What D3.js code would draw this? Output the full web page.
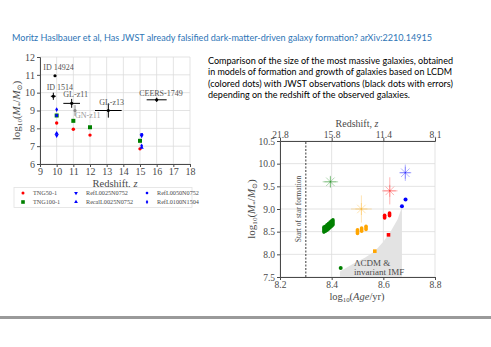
<!DOCTYPE html>
<html>
<head>
<meta charset="utf-8">
<script src="https://cdn.jsdelivr.net/npm/d3@7"></script>
<style>
  body { margin: 0; background: #fff; }
  svg { display: block; }
</style>
</head>
<body>
<svg id="chart" width="491" height="347"></svg>
<script>
// ---------- DATA ----------
const titleText = "Moritz Haslbauer et al, Has JWST already falsified dark-matter-driven galaxy formation?  arXiv:2210.14915";
const paragraphLines = [
  "Comparison of the size of the most massive galaxies, obtained",
  "in models of formation and growth of galaxies based on LCDM",
  "(colored dots) with JWST observations (black dots with errors)",
  "depending on the redshift of the observed galaxies."
];

// left panel: observed galaxies
const obsNames = ["ID 14924", "ID 1514", "GL-z11", "GN-z11", "GL-z13", "CEERS-1749"];
const obsZ     = [9.9, 9.8, 10.9, 11.1, 13.1, 16.0];
const obsMass  = [10.95, 9.8, 9.4, 9.0, 9.0, 9.6];
const obsXerr  = [0, 0.15, 0.5, 0, 0.8, 0.6];
const obsYerr  = [0, 0.2, 0.25, 0.3, 0.4, 0.12];
const obsLabelZ    = [9.2, 9.4, 10.4, 11.1, 12.55, 14.95];
const obsLabelMass = [11.28, 10.16, 9.74, 8.58, 9.3, 9.8];

// left panel: simulations
const simNames = ["TNG50-1", "TNG100-1", "RefL0025N0752", "RecalL0025N0752", "RefL0050N0752", "RefL0100N1504"];
const simZ = [
  [10, 11, 12, 15],
  [10, 11, 12, 15],
  [10, 15.1],
  [10, 15.1],
  [10, 15.1],
  [10, 15.1]
];
const simMass = [
  [8.3, 7.95, 7.62, 6.85],
  [8.72, 8.42, 8.06, 7.3],
  [7.6, 7.58],
  [7.72, 6.92],
  [8.72, 7.66],
  [9.05, 7.02]
];

// right panel: age axis
const ageTicks = [8.2, 8.4, 8.6, 8.8];
const redshiftTickLabels = ["21.8", "15.8", "11.4", "8.1"];
const massTicks = [7.5, 8.0, 8.5, 9.0, 9.5, 10.0, 10.5];

// right panel: observed (transparent asterisks)
const starAge  = [8.395, 8.515, 8.625, 8.685];
const starMass = [9.6, 9.0, 9.4, 9.8];
const starXerr = [0.03, 0.04, 0.03, 0.02];
const starYerr = [0.12, 0.3, 0.3, 0.18];
const starColor = ["green", "orange", "red", "blue"];

// right panel: most massive model galaxies (single points)
const ptAge   = [8.435, 8.567, 8.62, 8.672, 8.686];
const ptMass  = [7.7, 8.07, 8.43, 9.06, 9.21];
const ptColor = ["green", "orange", "red", "blue", "blue"];
const ptShape = ["circle", "square", "square", "circle", "circle"];

// right panel: clustered model galaxies [age, massLow, massHigh]
const clusterAge  = [8.370, 8.376, 8.382, 8.388, 8.394, 8.400, 8.405, 8.500, 8.516, 8.533, 8.605, 8.624];
const clusterLow  = [8.49, 8.51, 8.53, 8.56, 8.59, 8.62, 8.65, 8.46, 8.51, 8.55, 8.80, 8.85];
const clusterHigh = [8.60, 8.62, 8.65, 8.68, 8.71, 8.74, 8.76, 8.54, 8.58, 8.62, 8.86, 8.91];
const clusterColor = ["green", "green", "green", "green", "green", "green", "green", "orange", "orange", "orange", "red", "red"];

// LCDM envelope (upper edge)
const envAge  = [8.432, 8.432, 8.48, 8.53, 8.567, 8.60, 8.63, 8.655, 8.672, 8.672];
const envMass = [7.5, 7.62, 7.78, 7.93, 8.07, 8.28, 8.52, 8.77, 9.04, 7.5];

const startAge = 8.3;

// ---------- DRAWING ----------
const svg = d3.select("#chart");
svg.append("rect").attr("width", 491).attr("height", 347).attr("fill", "#fff");

const serif = "'Liberation Serif', 'DejaVu Serif', serif";
const sans = "Lato, 'Open Sans', sans-serif";
const blue = "#0000ff";
const axisGrey = "#4a4a4a";

// title
svg.append("text")
  .attr("x", 12).attr("y", 41)
  .attr("font-family", sans).attr("font-size", 9.5)
  .attr("fill", "#2e75b6")
  .attr("textLength", 420).attr("lengthAdjust", "spacingAndGlyphs")
  .text(titleText);

// paragraph
const paraWidths = [245, 244, 245, 202];
paragraphLines.forEach((line, i) => {
  svg.append("text")
    .attr("x", 208).attr("y", 64 + i * 11.3)
    .attr("font-family", sans).attr("font-size", 10)
    .attr("fill", "#000")
    .attr("textLength", paraWidths[i]).attr("lengthAdjust", "spacingAndGlyphs")
    .text(line);
});

// bottom rule
svg.append("rect").attr("x", 0).attr("y", 316).attr("width", 491).attr("height", 3).attr("fill", "#9a9a9a");

// log10(M*/Msun) label builder
function massLabel(t) {
  t.append("tspan").text("log");
  t.append("tspan").attr("font-size", "0.65em").attr("dy", 2).text("10");
  t.append("tspan").attr("dy", -2).text("(");
  t.append("tspan").attr("font-style", "italic").text("M");
  t.append("tspan").attr("font-size", "0.65em").attr("dy", 2).text("*");
  t.append("tspan").attr("dy", -2).text("/");
  t.append("tspan").attr("font-style", "italic").text("M");
  t.append("tspan").attr("font-size", "0.65em").attr("dy", 2).text("⊙");
  t.append("tspan").attr("dy", -2).text(")");
}

function styleAxis(a, size) {
  a.selectAll("text").attr("font-family", serif).attr("font-size", size).attr("fill", axisGrey);
  a.selectAll("line").attr("stroke", axisGrey);
  a.select(".domain").attr("stroke", axisGrey);
}

// ===== LEFT PANEL =====
const xL = d3.scaleLinear().domain([9, 18]).range([40, 190]);
const yL = d3.scaleLinear().domain([6, 12]).range([164, 57]);
const gL = svg.append("g");

gL.selectAll(".gx").data(d3.range(9, 19)).join("line")
  .attr("x1", d => xL(d)).attr("x2", d => xL(d))
  .attr("y1", yL(6)).attr("y2", yL(12))
  .attr("stroke", "#dcdcdc").attr("stroke-width", 0.8);
gL.selectAll(".gy").data(d3.range(6, 13)).join("line")
  .attr("x1", xL(9)).attr("x2", xL(18))
  .attr("y1", d => yL(d)).attr("y2", d => yL(d))
  .attr("stroke", "#dcdcdc").attr("stroke-width", 0.8);

const axL = gL.append("g").attr("transform", `translate(0,${yL(6)})`)
  .call(d3.axisBottom(xL).tickValues(d3.range(9, 19)).tickFormat(d3.format("d")).tickSize(3).tickPadding(1));
const ayL = gL.append("g").attr("transform", `translate(${xL(9)},0)`)
  .call(d3.axisLeft(yL).tickValues(d3.range(6, 13)).tickFormat(d3.format("d")).tickSize(3).tickPadding(2));
styleAxis(axL, 10);
styleAxis(ayL, 10);

gL.append("text").attr("x", xL(13.5)).attr("y", 187)
  .attr("text-anchor", "middle").attr("font-family", serif).attr("font-size", 10.5).attr("fill", axisGrey)
  .html("Redshift, <tspan font-style='italic'>z</tspan>");

const ylabL = gL.append("text")
  .attr("transform", `translate(20,${yL(9)}) rotate(-90)`)
  .attr("text-anchor", "middle").attr("font-family", serif).attr("font-size", 11).attr("fill", axisGrey);
massLabel(ylabL);

const simColor = ["red", "green", blue, blue, blue, blue];
function marker(g, shape, x, y, color, s) {
  if (shape === "circle") g.append("circle").attr("cx", x).attr("cy", y).attr("r", s).attr("fill", color);
  else if (shape === "square") g.append("rect").attr("x", x - s).attr("y", y - s).attr("width", 2 * s).attr("height", 2 * s).attr("fill", color);
  else {
    const sym = { down: d3.symbolTriangle, up: d3.symbolTriangle, pent: d3.symbolDiamond, sq: d3.symbolSquare }[shape];
    g.append("path").attr("d", d3.symbol(sym, s * s * 3)())
      .attr("transform", `translate(${x},${y}) rotate(${shape === "down" ? 180 : 0})`)
      .attr("fill", color);
  }
}
const simShape = ["circle", "square", "down", "up", "sq", "pent"];
const simSize = [1.7, 2, 1.6, 1.6, 1.5, 1.5];
simNames.forEach((n, i) => {
  simZ[i].forEach((z, j) => marker(gL, simShape[i], xL(z), yL(simMass[i][j]), simColor[i], simSize[i]));
});

obsNames.forEach((n, i) => {
  const col = n === "GN-z11" ? "#888" : "#000";
  const cx = xL(obsZ[i]), cy = yL(obsMass[i]);
  if (obsXerr[i] > 0) gL.append("line").attr("x1", xL(obsZ[i] - obsXerr[i])).attr("x2", xL(obsZ[i] + obsXerr[i]))
    .attr("y1", cy).attr("y2", cy).attr("stroke", col).attr("stroke-width", 1);
  if (obsYerr[i] > 0) gL.append("line").attr("x1", cx).attr("x2", cx)
    .attr("y1", yL(obsMass[i] - obsYerr[i])).attr("y2", yL(obsMass[i] + obsYerr[i])).attr("stroke", col).attr("stroke-width", 1);
  gL.append("circle").attr("cx", cx).attr("cy", cy).attr("r", 1.6).attr("fill", col);
});
obsNames.forEach((n, i) => {
  gL.append("text").attr("x", xL(obsLabelZ[i])).attr("y", yL(obsLabelMass[i]))
    .attr("font-family", serif).attr("font-size", 8)
    .attr("fill", n === "GN-z11" ? "#999" : "#555").text(n);
});

// legend
const lg = gL.append("g");
lg.append("rect").attr("x", 14).attr("y", 187.5).attr("width", 178).attr("height", 20)
  .attr("fill", "#fff").attr("stroke", "#e2e2e2").attr("stroke-width", 0.8);
const legX = [23, 76, 147];
const legY = [193, 202];
simNames.forEach((n, i) => {
  const col = Math.floor(i / 2), row = i % 2;
  marker(lg, simShape[i], legX[col], legY[row], simColor[i], simSize[i] * 0.9);
  lg.append("text").attr("x", legX[col] + 10).attr("y", legY[row] + 2)
    .attr("font-family", serif).attr("font-size", 6.2).attr("fill", axisGrey).text(n);
});

// ===== RIGHT PANEL =====
const xR = d3.scaleLinear().domain([8.2, 8.8]).range([280, 435]);
const yR = d3.scaleLinear().domain([7.5, 10.5]).range([277, 141]);
const gR = svg.append("g");

gR.selectAll(".gx").data(ageTicks).join("line")
  .attr("x1", d => xR(d)).attr("x2", d => xR(d)).attr("y1", yR(7.5)).attr("y2", yR(10.5))
  .attr("stroke", "#dcdcdc").attr("stroke-width", 0.8);
gR.selectAll(".gy").data(massTicks).join("line")
  .attr("x1", xR(8.2)).attr("x2", xR(8.8)).attr("y1", d => yR(d)).attr("y2", d => yR(d))
  .attr("stroke", "#dcdcdc").attr("stroke-width", 0.8);

gR.append("path")
  .attr("d", d3.line().x((d, i) => xR(envAge[i])).y((d, i) => yR(envMass[i]))(envAge) + "Z")
  .attr("fill", "#e3e3e3");

gR.append("text").attr("x", 354).attr("y", 266)
  .attr("font-family", serif).attr("font-size", 9).attr("fill", axisGrey).text("ΛCDM &");
gR.append("text").attr("x", 354).attr("y", 275)
  .attr("font-family", serif).attr("font-size", 9).attr("fill", axisGrey).text("invariant IMF");

const axR = gR.append("g").attr("transform", `translate(0,${yR(7.5)})`)
  .call(d3.axisBottom(xR).tickValues(ageTicks).tickFormat(d3.format(".1f")).tickSize(3).tickPadding(1));
const axRt = gR.append("g").attr("transform", `translate(0,${yR(10.5)})`)
  .call(d3.axisTop(xR).tickValues(ageTicks).tickFormat((d, i) => redshiftTickLabels[i]).tickSize(3).tickPadding(0.5));
const ayR = gR.append("g").attr("transform", `translate(${xR(8.2)},0)`)
  .call(d3.axisLeft(yR).tickValues(massTicks).tickFormat(d3.format(".1f")).tickSize(3).tickPadding(2));
styleAxis(axR, 9.5);
styleAxis(axRt, 9.5);
styleAxis(ayR, 9.5);

gR.append("text").attr("x", 357).attr("y", 127)
  .attr("text-anchor", "middle").attr("font-family", serif).attr("font-size", 10).attr("fill", axisGrey)
  .html("Redshift, <tspan font-style='italic'>z</tspan>");

const xlabR = gR.append("text").attr("x", 357).attr("y", 300)
  .attr("text-anchor", "middle").attr("font-family", serif).attr("font-size", 10.5).attr("fill", axisGrey);
xlabR.append("tspan").text("log");
xlabR.append("tspan").attr("font-size", "0.65em").attr("dy", 2).text("10");
xlabR.append("tspan").attr("dy", -2).text("(");
xlabR.append("tspan").attr("font-style", "italic").text("Age");
xlabR.append("tspan").text("/yr)");

const ylabR = gR.append("text")
  .attr("transform", `translate(255,${yR(9)}) rotate(-90)`)
  .attr("text-anchor", "middle").attr("font-family", serif).attr("font-size", 11).attr("fill", axisGrey);
massLabel(ylabR);

gR.append("line").attr("x1", xR(startAge)).attr("x2", xR(startAge)).attr("y1", yR(7.5)).attr("y2", yR(10.5))
  .attr("stroke", "#222").attr("stroke-width", 0.9).attr("stroke-dasharray", "2,1.5");
gR.append("text").attr("transform", `translate(${xR(startAge) - 5},${yR(9.0)}) rotate(-90)`)
  .attr("text-anchor", "middle").attr("font-family", serif).attr("font-size", 7.5).attr("fill", axisGrey)
  .text("Start of star formation");

starAge.forEach((a, i) => {
  const g = gR.append("g").attr("stroke", starColor[i]).attr("stroke-opacity", 0.3).attr("stroke-width", 1);
  const cx = xR(a), cy = yR(starMass[i]);
  g.append("line").attr("x1", xR(a - starXerr[i])).attr("x2", xR(a + starXerr[i])).attr("y1", cy).attr("y2", cy);
  g.append("line").attr("x1", cx).attr("x2", cx).attr("y1", yR(starMass[i] - starYerr[i])).attr("y2", yR(starMass[i] + starYerr[i]));
  [0, 45, 90, 135].forEach(ang => {
    const r = 6, t = ang * Math.PI / 180;
    g.append("line").attr("x1", cx - r * Math.cos(t)).attr("x2", cx + r * Math.cos(t))
      .attr("y1", cy - r * Math.sin(t)).attr("y2", cy + r * Math.sin(t));
  });
});

clusterAge.forEach((a, i) => {
  gR.append("line").attr("x1", xR(a)).attr("x2", xR(a))
    .attr("y1", yR(clusterLow[i])).attr("y2", yR(clusterHigh[i]))
    .attr("stroke", clusterColor[i]).attr("stroke-width", 3.6).attr("stroke-linecap", "round");
});

ptAge.forEach((a, i) => marker(gR, ptShape[i], xR(a), yR(ptMass[i]), ptColor[i], ptShape[i] === "circle" ? 2 : 1.8));
</script>
</body>
</html>
